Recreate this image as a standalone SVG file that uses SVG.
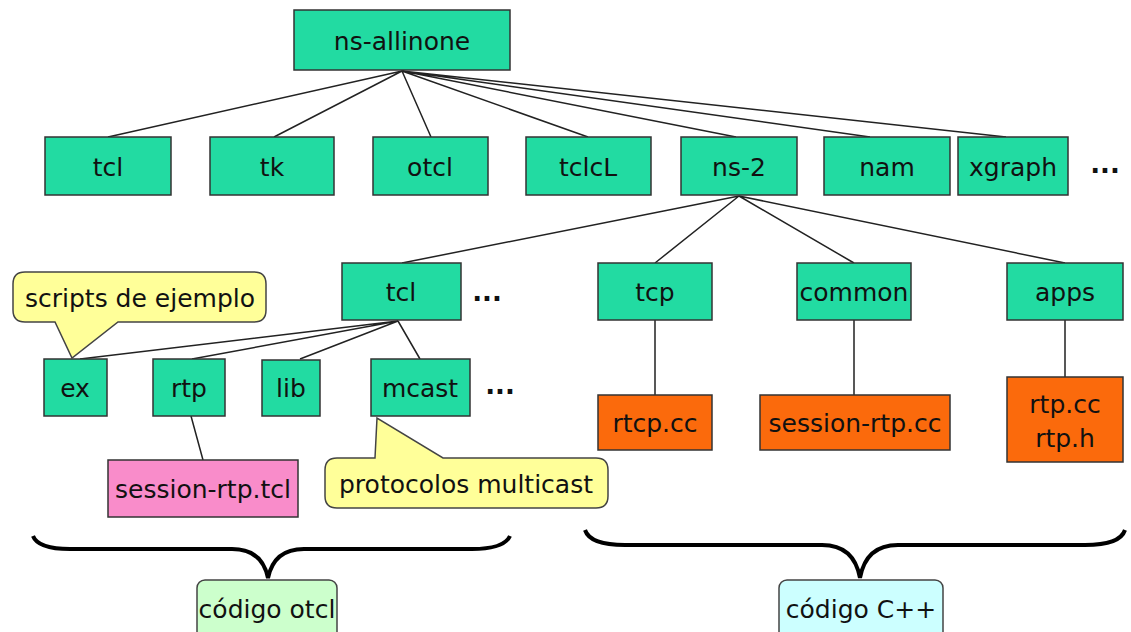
<svg xmlns="http://www.w3.org/2000/svg" width="1131" height="632" viewBox="0 0 1131 632">
<style>
text{font-family:"DejaVu Sans","Liberation Sans",sans-serif;font-size:25px;fill:#111;text-anchor:middle}
.n{fill:#22dba2;stroke:#333;stroke-width:1.5}
.o{fill:#fb6a0c;stroke:#333;stroke-width:1.5}
.p{fill:#f98cca;stroke:#333;stroke-width:1.5}
.y{fill:#ffff99;stroke:#444;stroke-width:1.5}
.g{fill:#ccffcc;stroke:#444;stroke-width:1.5}
.c{fill:#ccffff;stroke:#444;stroke-width:1.5}
.l{stroke:#222;stroke-width:1.5;fill:none}
.b{stroke:#000;stroke-width:4;fill:none}
.d{font-weight:bold;font-size:26px}
</style>
<rect width="1131" height="632" fill="#fff"/>
<g id="connectors">
<path class="l" d="M402 71L108 137M402 71L274 137M402 71L431 137M402 71L588 137M402 71L736 137M402 71L870 137M402 71L1006 137"/>
<path class="l" d="M739 196L402 263M739 196L655 263M739 196L854 263M739 196L1065 263"/>
<path class="l" d="M398 321L80 359M398 321L192 359M398 321L300 359M398 321L420 359"/>
<path class="l" d="M191 416L203 460M655 320L655 395M854 320L854 395M1065 320L1065 377"/>
</g>
<g id="ns-allinone"><rect class="n" x="294" y="10" width="216" height="60"/><text x="402" y="50">ns-allinone</text></g>
<g id="tcl1"><rect class="n" x="45" y="137" width="126" height="58"/><text x="108" y="176">tcl</text></g>
<g id="tk"><rect class="n" x="210" y="137" width="124" height="58"/><text x="272" y="176">tk</text></g>
<g id="otcl"><rect class="n" x="373" y="137" width="115" height="58"/><text x="430" y="176">otcl</text></g>
<g id="tclcL"><rect class="n" x="526" y="137" width="125" height="58"/><text x="588" y="176">tclcL</text></g>
<g id="ns-2"><rect class="n" x="681" y="137" width="116" height="58"/><text x="739" y="176">ns-2</text></g>
<g id="nam"><rect class="n" x="824" y="137" width="126" height="58"/><text x="887" y="176">nam</text></g>
<g id="xgraph"><rect class="n" x="958" y="137" width="110" height="58"/><text x="1013" y="176">xgraph</text></g>
<text class="d" x="1105" y="173">...</text>
<g id="tcl2"><rect class="n" x="342" y="263" width="119" height="57"/><text x="401" y="301">tcl</text></g>
<text class="d" x="487" y="301">...</text>
<g id="tcp"><rect class="n" x="598" y="263" width="114" height="57"/><text x="655" y="301">tcp</text></g>
<g id="common"><rect class="n" x="797" y="263" width="114" height="57"/><text x="854" y="301">common</text></g>
<g id="apps"><rect class="n" x="1007" y="263" width="116" height="57"/><text x="1065" y="301">apps</text></g>
<g id="ex"><rect class="n" x="44" y="359" width="63" height="57"/><text x="75" y="397">ex</text></g>
<g id="rtp"><rect class="n" x="153" y="359" width="72" height="57"/><text x="189" y="397">rtp</text></g>
<g id="lib"><rect class="n" x="262" y="360" width="58" height="56"/><text x="291" y="397">lib</text></g>
<g id="mcast"><rect class="n" x="371" y="359" width="99" height="57"/><text x="420" y="397">mcast</text></g>
<text class="d" x="500" y="394">...</text>
<g id="session-rtp-tcl"><rect class="p" x="108" y="460" width="190" height="57"/><text x="203" y="498">session-rtp.tcl</text></g>
<g id="rtcp-cc"><rect class="o" x="598" y="395" width="114" height="55"/><text x="655" y="432">rtcp.cc</text></g>
<g id="session-rtp-cc"><rect class="o" x="760" y="395" width="190" height="55"/><text x="855" y="432">session-rtp.cc</text></g>
<g id="rtp-cc"><rect class="o" x="1007" y="377" width="116" height="85"/><text x="1065" y="413">rtp.cc</text><text x="1065" y="447">rtp.h</text></g>
<g id="callout-scripts"><path class="y" d="M25 272H254Q266 272 266 284V310Q266 322 254 322H118L72 358L55 322H25Q13 322 13 310V284Q13 272 25 272Z"/><text x="140" y="307">scripts de ejemplo</text></g>
<g id="callout-multicast"><path class="y" d="M337 458H375L377 418L443 458H596Q608 458 608 470V496Q608 508 596 508H337Q325 508 325 496V470Q325 458 337 458Z"/><text x="466" y="493">protocolos multicast</text></g>
<g id="brace-otcl"><path class="b" d="M33 536Q38 549 70 549H232Q262 549 268 578Q274 549 304 549H472Q504 549 510 536"/></g>
<g id="brace-cpp"><path class="b" d="M585 530Q590 545 625 545H822Q854 545 860 578Q866 545 898 545H1085Q1120 545 1125 530"/></g>
<g id="codigo-otcl"><rect class="g" x="197" y="580" width="140" height="60" rx="8"/><text x="267" y="618">código otcl</text></g>
<g id="codigo-cpp"><rect class="c" x="779" y="580" width="164" height="60" rx="8"/><text x="861" y="618">código C++</text></g>
</svg>
